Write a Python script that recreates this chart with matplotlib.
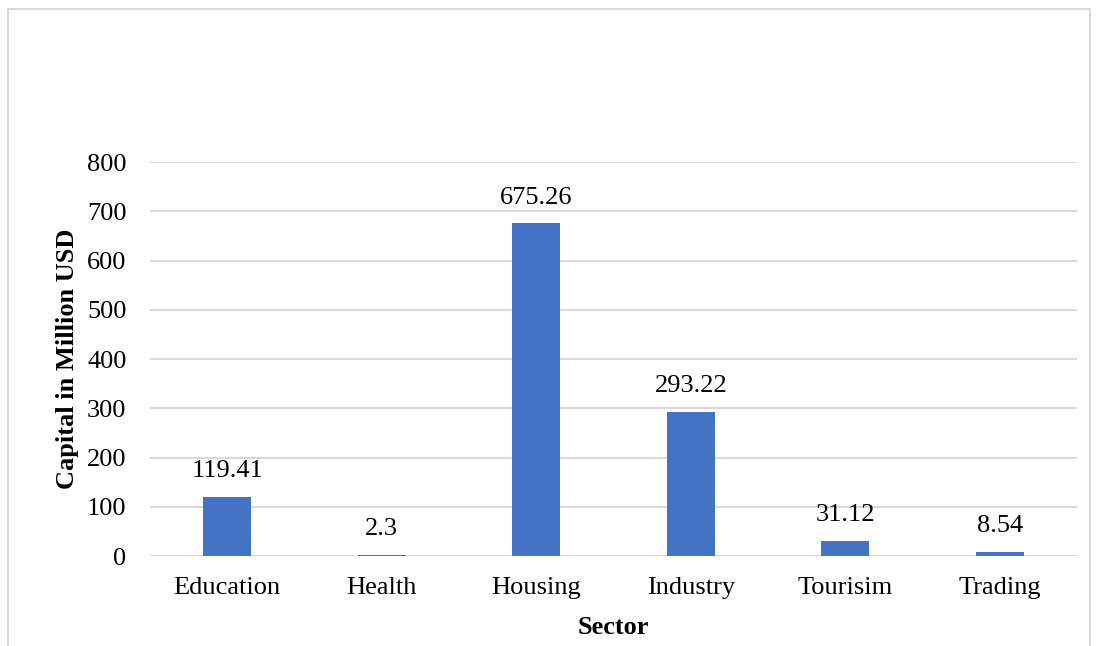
import matplotlib.pyplot as plt
from matplotlib.patches import Rectangle

sectors = ['Education', 'Health', 'Housing', 'Industry', 'Tourisim', 'Trading']
capital = [119.41, 2.3, 675.26, 293.22, 31.12, 8.54]
capital_labels = ['119.41', '2.3', '675.26', '293.22', '31.12', '8.54']
yticks = [0, 100, 200, 300, 400, 500, 600, 700, 800]

plt.rcParams['font.family'] = ['Liberation Serif', 'DejaVu Serif']

fig = plt.figure(figsize=(10.99, 6.46), dpi=100)
ax = fig.add_axes([0.1365, 0.1393, 0.8435, 0.6099])

# chart frame
fig.patches.append(Rectangle((8 / 1099, -0.05), 1082 / 1099, 1.05 - 9 / 646,
                             transform=fig.transFigure, fill=False,
                             edgecolor='#D9D9D9', linewidth=1.5))

x = range(len(sectors))
ax.bar(x, capital, width=0.31, color='#4472C4', zorder=3)
for xi, v, lab in zip(x, capital, capital_labels):
    ax.text(xi, v + 30, lab, ha='center', va='bottom', fontsize=19)

ax.set_xlim(-0.5, len(sectors) - 0.5)
ax.set_ylim(0, 800)
ax.set_yticks(yticks)
ax.set_xticks(list(x))
ax.set_xticklabels(sectors)
ax.tick_params(axis='both', length=0, labelsize=19)
ax.tick_params(axis='y', pad=17)
ax.tick_params(axis='x', pad=15)
ax.grid(axis='y', color='#D9D9D9', linewidth=1.5, zorder=0)
for s in ax.spines.values():
    s.set_visible(False)

ax.set_ylabel('Capital in Million USD', fontsize=19, fontweight='bold', labelpad=6)
ax.set_xlabel('Sector', fontsize=19, fontweight='bold', labelpad=12)

fig.savefig('out.png', dpi=100)
